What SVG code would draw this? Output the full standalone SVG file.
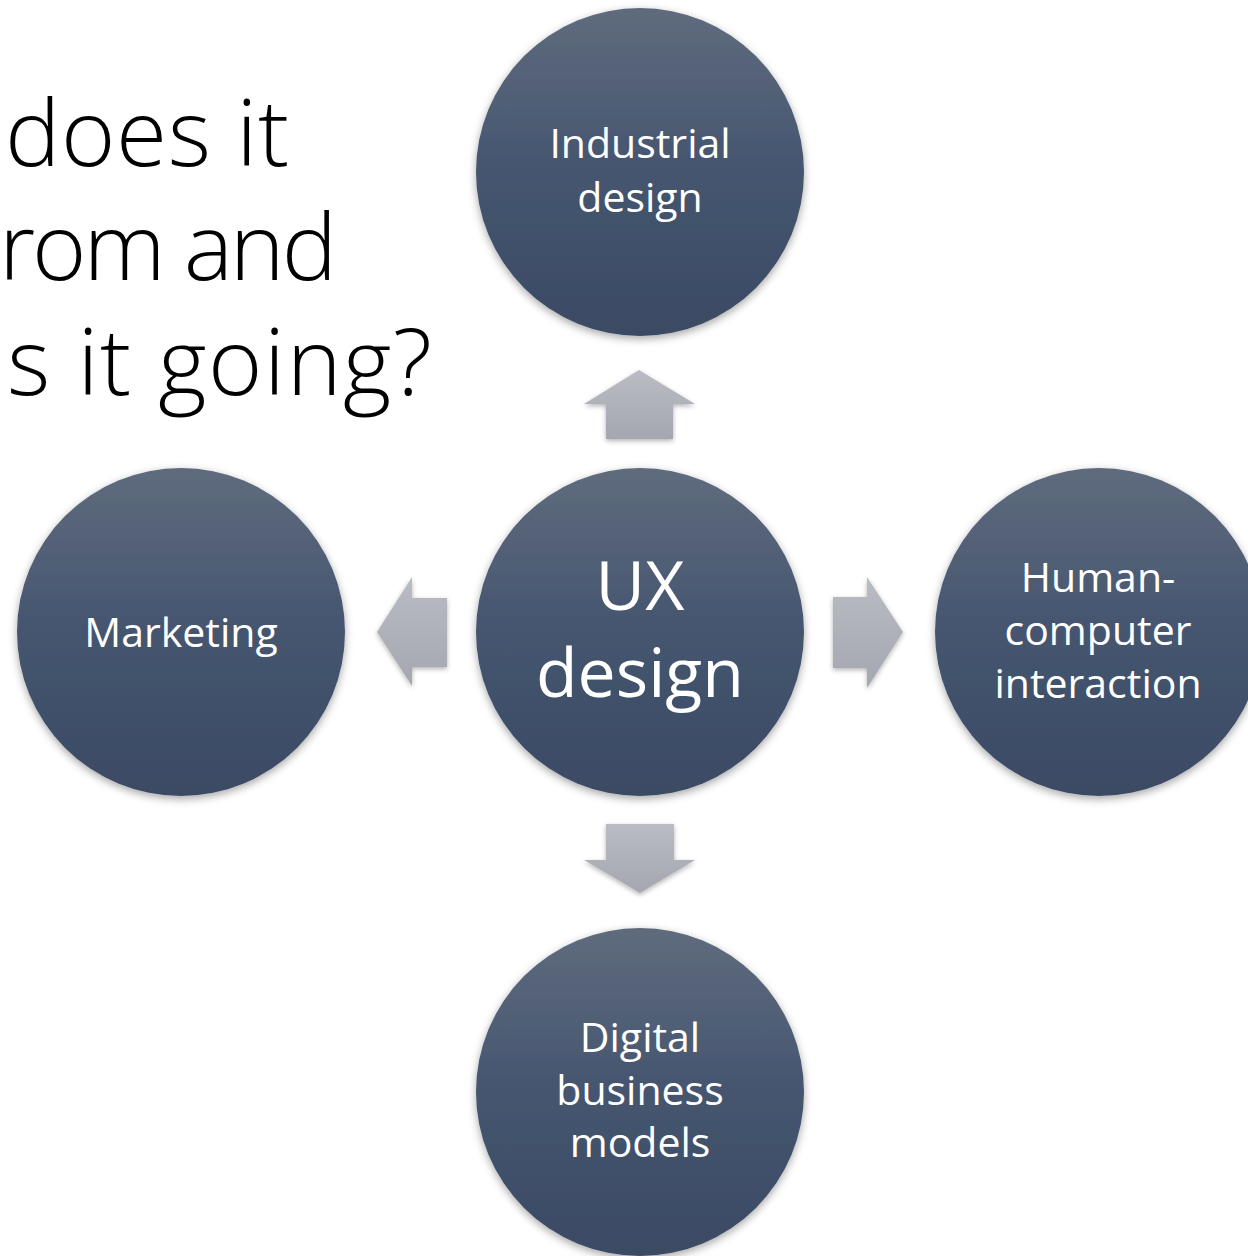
<svg xmlns="http://www.w3.org/2000/svg" width="1248" height="1256" viewBox="0 0 1248 1256">
  <style>
    .title { font-family: "Open Sans", "Liberation Sans", sans-serif; font-weight: 300; font-size: 93px; fill: #000000; }
    .lbl { font-family: "Open Sans", "Liberation Sans", sans-serif; font-size: 41px; fill: #ffffff; text-anchor: middle; }
    .big { font-family: "Open Sans", "Liberation Sans", sans-serif; font-size: 68px; fill: #ffffff; text-anchor: middle; }
    .node { fill: url(#cg); filter: url(#sh); }
    .arr { fill: url(#ag); filter: url(#ash); }
  </style>
  <defs>
    <linearGradient id="cg" x1="0" y1="0" x2="0" y2="1">
      <stop offset="0" stop-color="#5f6b7d"/>
      <stop offset="0.5" stop-color="#45556f"/>
      <stop offset="1" stop-color="#3b4a64"/>
    </linearGradient>
    <linearGradient id="ag" x1="0" y1="0" x2="0" y2="1">
      <stop offset="0" stop-color="#b9bcc3"/>
      <stop offset="1" stop-color="#a4a7af"/>
    </linearGradient>
    <filter id="sh" x="-20%" y="-20%" width="140%" height="140%">
      <feDropShadow dx="0" dy="3" stdDeviation="4" flood-color="#000000" flood-opacity="0.35"/>
    </filter>
    <filter id="ash" x="-20%" y="-20%" width="140%" height="140%">
      <feDropShadow dx="0" dy="2" stdDeviation="2.5" flood-color="#000000" flood-opacity="0.3"/>
    </filter>
  </defs>
  <rect width="1248" height="1256" fill="#ffffff"/>

  <g id="title">
    <text class="title" x="5" y="166" textLength="284" lengthAdjust="spacing">does it</text>
    <text class="title" x="-1" y="280" textLength="338" lengthAdjust="spacing">rom and</text>
    <text class="title" x="7" y="395" textLength="425" lengthAdjust="spacing">s it going?</text>
  </g>

  <g id="connectors">
    <path class="arr" d="M639,370 L695,404 L673,404 L673,439 L606,439 L606,404 L584,404 Z"/>
    <path class="arr" d="M606,824 L674,824 L674,860 L695,860 L640,893 L584,860 L606,860 Z"/>
    <path class="arr" d="M377,632 L412,577 L412,598 L447,598 L447,667 L412,667 L412,686 Z"/>
    <path class="arr" d="M833,597 L867,597 L867,577 L903,632 L867,688 L867,668 L833,668 Z"/>
  </g>

  <g id="industrial">
    <circle class="node" cx="640" cy="172" r="164"/>
    <text class="lbl" x="640" y="158">Industrial</text>
    <text class="lbl" x="640" y="212">design</text>
  </g>

  <g id="ux">
    <circle class="node" cx="640" cy="632" r="164"/>
    <text class="big" x="640" y="610">UX</text>
    <text class="big" x="640" y="697">design</text>
  </g>

  <g id="marketing">
    <circle class="node" cx="181" cy="632" r="164"/>
    <text class="lbl" x="181" y="647">Marketing</text>
  </g>

  <g id="hci">
    <circle class="node" cx="1099" cy="632" r="164"/>
    <text class="lbl" x="1098" y="592">Human-</text>
    <text class="lbl" x="1098" y="645">computer</text>
    <text class="lbl" x="1098" y="698">interaction</text>
  </g>

  <g id="digital">
    <circle class="node" cx="640" cy="1092" r="164"/>
    <text class="lbl" x="640" y="1052">Digital</text>
    <text class="lbl" x="640" y="1105">business</text>
    <text class="lbl" x="640" y="1157">models</text>
  </g>
</svg>
